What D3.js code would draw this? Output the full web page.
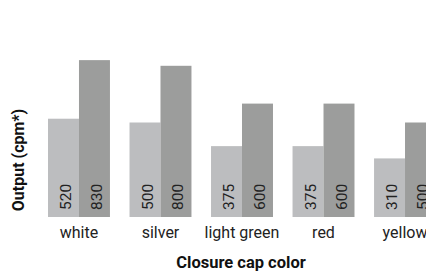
<!DOCTYPE html>
<html>
<head>
<meta charset="utf-8">
<script src="https://cdn.jsdelivr.net/npm/d3@7"></script>
<style>
  body { margin: 0; background: #fff; }
  svg { display: block; font-family: Roboto, sans-serif; }
</style>
</head>
<body>
<svg width="426" height="271"></svg>
<script>
const categories = ['white', 'silver', 'light green', 'red', 'yellow'];
const seriesNames = ['a', 'b'];
const seriesA = [520, 500, 375, 375, 310];
const seriesB = [830, 800, 600, 600, 500];
const seriesColors = ['#bcbdbf', '#9c9d9c'];

const width = 426;
const height = 271;
const svg = d3.select('svg');

const data = categories.map((c, i) => ({ category: c, values: [seriesA[i], seriesB[i]] }));

const x = d3.scaleBand()
  .domain(categories)
  .range([48, 436])
  .paddingInner(0.24)
  .paddingOuter(0);

const xSub = d3.scaleBand()
  .domain(seriesNames)
  .range([0, x.bandwidth()]);

const y = d3.scaleLinear()
  .domain([0, 1000])
  .range([217, 28]);

const groups = svg.selectAll('g.group')
  .data(data)
  .enter()
  .append('g')
  .attr('class', 'group')
  .attr('transform', d => `translate(${x(d.category)},0)`);

groups.selectAll('rect')
  .data(d => d.values.map((v, j) => ({ key: seriesNames[j], value: v, j })))
  .enter()
  .append('rect')
  .attr('x', d => xSub(d.key))
  .attr('y', d => y(d.value))
  .attr('width', xSub.bandwidth())
  .attr('height', d => y(0) - y(d.value))
  .attr('fill', d => seriesColors[d.j]);

// value labels, rotated, at the foot of each bar
groups.selectAll('text.val')
  .data(d => d.values.map((v, j) => ({ key: seriesNames[j], value: v })))
  .enter()
  .append('text')
  .attr('class', 'val')
  .attr('transform', d => `translate(${xSub(d.key) + xSub.bandwidth() / 2 + 7.5},${y(0) - 7}) rotate(-90)`)
  .style('font-size', '15.5px')
  .style('fill', '#222')
  .text(d => d.value);

// category labels
svg.selectAll('text.cat')
  .data(categories)
  .enter()
  .append('text')
  .attr('class', 'cat')
  .attr('x', d => x(d) + x.bandwidth() / 2)
  .attr('y', 238)
  .attr('text-anchor', 'middle')
  .style('font-size', '16px')
  .style('fill', '#222')
  .text(d => d);

svg.append('text')
  .attr('x', 241)
  .attr('y', 268)
  .attr('text-anchor', 'middle')
  .style('font-size', '16.5px')
  .style('font-weight', 'bold')
  .style('fill', '#111')
  .text('Closure cap color');

svg.append('text')
  .attr('transform', 'translate(24,160) rotate(-90)')
  .attr('text-anchor', 'middle')
  .style('font-size', '16px')
  .style('font-weight', 'bold')
  .style('fill', '#111')
  .text('Output (cpm*)');
</script>
</body>
</html>
